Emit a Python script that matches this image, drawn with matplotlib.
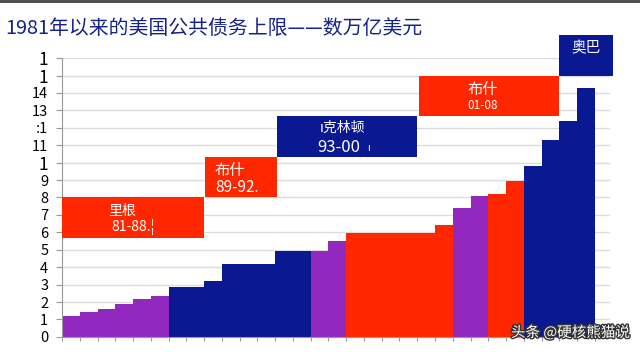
import matplotlib
matplotlib.use("Agg")
import matplotlib.pyplot as plt
from matplotlib.patches import Rectangle
import matplotlib.patheffects as pe

plt.rcParams['font.family'] = ['Noto Sans CJK SC', 'DejaVu Sans']

years = list(range(1981, 2011))
debt_limit = [1.17, 1.40, 1.61, 1.90, 2.17, 2.37,
              2.87, 2.87, 3.20, 4.20, 4.20, 4.20,
              4.90, 4.90, 4.90, 5.50, 5.95, 5.95,
              5.95, 5.95, 5.95, 6.40, 7.40, 8.10,
              8.18, 8.97, 9.80, 11.30, 12.40, 14.30]
bar_groups = ['p'] * 6 + ['b'] * 8 + ['p'] * 2 + ['r'] * 6 + ['p'] * 2 + ['r'] * 2 + ['b'] * 4

# presidency boxes: (x start, x end, y low, y high, colour key)
terms = [
    (0, 8, 5.7, 8.0, 'r'),
    (8.05, 12.1, 8.0, 10.35, 'r'),
    (12.1, 20.0, 10.35, 12.65, 'b'),
    (20.1, 28.0, 12.65, 15.0, 'r'),
    (28.0, 31.0, 15.0, 17.3, 'b'),
]
ytick_vals = list(range(17))
ytick_text = ['0', '1', '2', '3', '4', '5', '6', '7', '8', '9', '1',
              '11', ':1', '13', '14', '1', '1']

colors = {'p': '#9228bd', 'b': '#0a1891', 'r': '#ff2600'}

fig = plt.figure(figsize=(6.4, 3.52), dpi=100)
ax = fig.add_axes([0.097, 0.043, 0.856, 0.792])

for i, h in enumerate(debt_limit):
    ax.bar(i, h, width=1.0, align='edge', color=colors[bar_groups[i]], zorder=2)

for x0, x1, y0, y1, c in terms:
    ax.add_patch(Rectangle((x0, y0), x1 - x0, y1 - y0, facecolor=colors[c],
                           edgecolor='none', zorder=3, clip_on=False))

# texts inside the boxes
ax.text(2.6, 7.2, '里根', color='white', fontsize=10, zorder=4, va='center')
ax.text(2.8, 6.3, '81-88.¦', color='white', fontsize=10, zorder=4, va='center')
ax.text(8.6, 9.55, '布什', color='white', fontsize=11, zorder=4, va='center')
ax.text(8.6, 8.55, '89-92.', color='white', fontsize=11, zorder=4, va='center')
ax.text(15.8, 12.0, 'ı克林顿', color='white', fontsize=10, zorder=4, va='center', ha='center')
ax.text(15.6, 10.85, '93-00', color='white', fontsize=12, zorder=4, va='center', ha='center')
ax.text(17.2, 10.85, 'ı', color='white', fontsize=7, zorder=4, va='center')
ax.text(23.7, 14.2, '布什', color='white', fontsize=11, zorder=4, va='center', ha='center')
ax.text(23.7, 13.25, '01-08', color='white', fontsize=8.5, zorder=4, va='center', ha='center')
ax.text(28.7, 16.55, '奥巴', color='white', fontsize=10.5, zorder=4, va='center', clip_on=False)

ax.set_xlim(0, 30.85)
ax.set_ylim(0, 16)
ax.set_yticks(ytick_vals)
ax.set_yticklabels(ytick_text)
for lab, t in zip(ax.get_yticklabels(), ytick_text):
    lab.set_fontsize(12.5 if t == '1' and lab.get_position()[1] in (10, 15, 16) else 10.5)
ax.set_xticks(range(31))
ax.set_xticklabels([])
ax.tick_params(axis='x', length=3, color='#999999', direction='out')
ax.tick_params(axis='y', length=4, color='#999999', pad=6)
ax.yaxis.grid(True, color='#dddddd', lw=1, zorder=0)
ax.set_axisbelow(True)
for s in ['top', 'right']:
    ax.spines[s].set_visible(False)
for s in ['left', 'bottom']:
    ax.spines[s].set_color('#999999')

fig.text(0.008, 0.92, '1981年以来的美国公共债务上限——数万亿美元', color='#14228c',
         fontsize=14.3, va='center')
fig.add_artist(plt.Line2D([0, 1], [0.997, 0.997], color='#444444', lw=2))

fig.text(0.985, 0.055, '头条 @硬核熊猫说', color='white', fontsize=10.5, ha='right',
         va='center', path_effects=[pe.withStroke(linewidth=2, foreground='#333333')])

fig.savefig('out.png', dpi=100)
